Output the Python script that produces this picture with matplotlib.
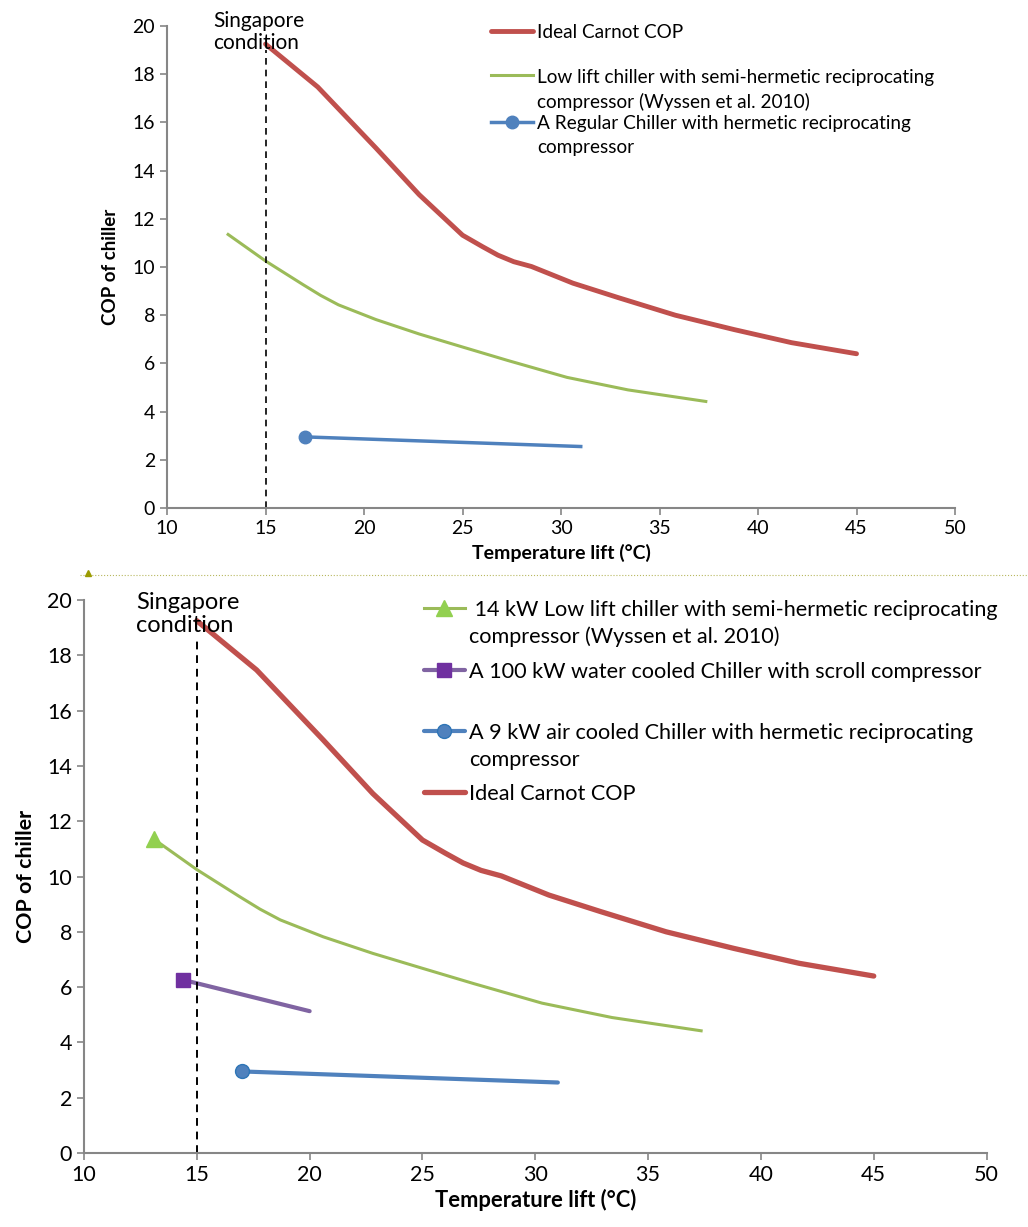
import matplotlib.pyplot as plt
from matplotlib.lines import Line2D

plt.rcParams['font.family'] = ['Lato', 'DejaVu Sans']

# data
carnot_x = [15, 17.65, 20.6, 22.8, 25.0, 26.0, 26.8, 27.6, 28.5, 30.6, 32.9, 35.8, 38.8, 41.7, 45]
carnot_y = [19.25, 17.47, 14.94, 13.0, 11.32, 10.85, 10.49, 10.22, 10.02, 9.33, 8.73, 8.0, 7.4, 6.86, 6.4]

lowlift_x = [13.1, 15, 16.9, 17.8, 18.7, 20.6, 22.8, 25.0, 27.3, 30.3, 33.4, 37.35]
lowlift_y = [11.35, 10.25, 9.27, 8.82, 8.43, 7.82, 7.22, 6.68, 6.12, 5.42, 4.9, 4.42]

scroll_x = [14.4, 20]
scroll_y = [6.26, 5.13]

regular_x = [17, 31]
regular_y = [2.95, 2.55]

singapore_x = 15

RED = '#C0504D'
GREEN = '#9BBB59'
BLUE = '#4F81BD'
PURPLE = '#8064A2'
GREY = '#868686'


def style_axes(ax, fs):
    ax.set_xlim(10, 50)
    ax.set_ylim(0, 20)
    ax.set_xticks(range(10, 51, 5))
    ax.set_yticks(range(0, 21, 2))
    for s in ['top', 'right']:
        ax.spines[s].set_visible(False)
    for s in ['left', 'bottom']:
        ax.spines[s].set_color(GREY)
        ax.spines[s].set_linewidth(1.5)
    ax.tick_params(colors=GREY, labelcolor='black', labelsize=fs,
                   length=5, width=1.2, direction='out')


def top_align_handles(leg, spacing):
    # Excel puts the legend key next to the first line of a wrapped label
    for t in leg.get_texts():
        t.set_linespacing(spacing)
    for col in leg._legend_handle_box.get_children():
        for row in col.get_children():
            row.align = 'top'


fig = plt.figure(figsize=(10.28, 12.27), dpi=100)

# ---- top panel
ax1 = fig.add_axes([0.1625, 0.586, 0.7665, 0.3928])
style_axes(ax1, 14)
ax1.plot(carnot_x, carnot_y, color=RED, lw=3.5, solid_capstyle='round',
         solid_joinstyle='round', label='Ideal Carnot COP\n ')
ax1.plot(lowlift_x, lowlift_y, color=GREEN, lw=2.2, solid_joinstyle='round',
         label='Low lift chiller with semi-hermetic reciprocating\ncompressor (Wyssen et al. 2010)')
ax1.plot(regular_x, regular_y, color=BLUE, lw=2.5, marker='o', markersize=9,
         markevery=[0],
         label='A Regular Chiller with hermetic reciprocating\ncompressor')
ax1.plot([singapore_x, singapore_x], [0, 19.0], color='black', lw=1.2, ls=(0, (4, 3)))
ax1.text(12.35, 19.05, 'Singapore\ncondition', fontsize=15, linespacing=1.1)
ax1.set_xlabel('Temperature lift (°C)', fontsize=14, fontweight='bold', labelpad=5)
ax1.set_ylabel('COP of chiller', fontsize=13.5, fontweight='bold', labelpad=10)
leg1 = ax1.legend(loc='upper left', bbox_to_anchor=(0.39, 1.04), frameon=False,
                  fontsize=13.7, handlelength=2.2, handletextpad=0.2, labelspacing=0.22)
top_align_handles(leg1, 1.47)

# ---- bottom panel
ax2 = fig.add_axes([0.0817, 0.0603, 0.878, 0.4507])
style_axes(ax2, 15.5)
ax2.plot(lowlift_x, lowlift_y, color=GREEN, lw=2.2, marker='^', markersize=11,
         markerfacecolor='#92D050', markeredgecolor='#92D050', markevery=[0],
         solid_joinstyle='round',
         label=' 14 kW Low lift chiller with semi-hermetic reciprocating\ncompressor (Wyssen et al. 2010)')
ax2.plot(scroll_x, scroll_y, color=PURPLE, lw=3, marker='s', markersize=10,
         markerfacecolor='#7030A0', markeredgecolor='#7030A0', markevery=[0],
         solid_capstyle='round',
         label='A 100 kW water cooled Chiller with scroll compressor\n ')
ax2.plot(regular_x, regular_y, color=BLUE, lw=3, marker='o', markersize=10,
         markeredgecolor='#2E75B6', markevery=[0], solid_capstyle='round',
         label='A 9 kW air cooled Chiller with hermetic reciprocating\ncompressor')
ax2.plot(carnot_x, carnot_y, color=RED, lw=3.8, solid_capstyle='round',
         solid_joinstyle='round', label='Ideal Carnot COP')
ax2.plot([singapore_x, singapore_x], [0, 18.6], color='black', lw=1.4, ls=(0, (4, 3)))
ax2.text(12.3, 18.85, 'Singapore\ncondition', fontsize=17, linespacing=1.1)
ax2.set_xlabel('Temperature lift (°C)', fontsize=15.8, fontweight='bold', labelpad=3)
ax2.set_ylabel('COP of chiller', fontsize=15.4, fontweight='bold', labelpad=8)
leg2 = ax2.legend(loc='upper left', bbox_to_anchor=(0.355, 1.035), frameon=False,
                  fontsize=15.6, handlelength=1.9, handletextpad=0.2, labelspacing=0.68)
top_align_handles(leg2, 1.4)

# thin separator between the two pasted charts
fig.add_artist(Line2D([0.078, 1.0], [0.531, 0.531], color='#B8B860', lw=0.8,
                      ls=':', transform=fig.transFigure))
fig.add_artist(Line2D([0.086], [0.533], color='#9B9B00', marker='^', markersize=5,
                      lw=0, transform=fig.transFigure))

fig.savefig('out.png', dpi=100)
